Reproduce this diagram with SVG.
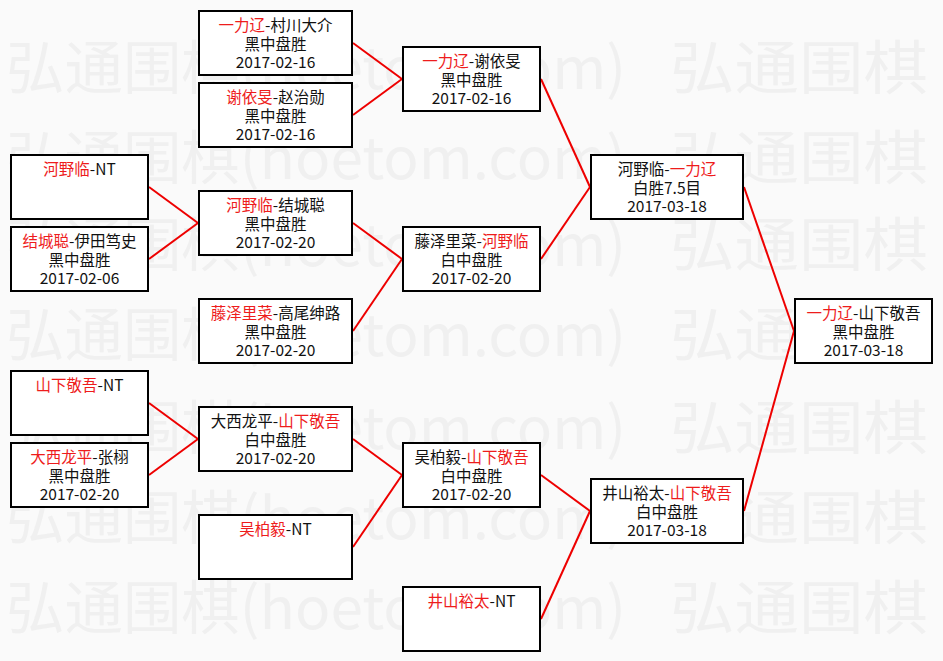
<svg xmlns="http://www.w3.org/2000/svg" width="943" height="661" viewBox="0 0 943 661">
<style>
.bg{fill:#fafafa}
.wm{font-family:"Noto Sans CJK SC","Noto Sans",sans-serif;font-size:58px;fill:#f0f0f0}
.box{fill:#ffffff;stroke:#000000;stroke-width:2}
.t{font-family:"Noto Sans CJK SC","Noto Sans",sans-serif;font-size:15.5px;fill:#111111;text-anchor:middle}
.r{fill:#ee1c1c}
.conn line{stroke:#ee0000;stroke-width:2}
</style>
<rect class="bg" x="0" y="0" width="943" height="661"/>
<g id="watermark">
<text class="wm" x="6" y="89" textLength="620" lengthAdjust="spacingAndGlyphs">弘通围棋(hoetom.com)</text>
<text class="wm" x="670" y="89" textLength="258" lengthAdjust="spacingAndGlyphs">弘通围棋</text>
<text class="wm" x="6" y="179" textLength="620" lengthAdjust="spacingAndGlyphs">弘通围棋(hoetom.com)</text>
<text class="wm" x="670" y="179" textLength="258" lengthAdjust="spacingAndGlyphs">弘通围棋</text>
<text class="wm" x="6" y="266" textLength="620" lengthAdjust="spacingAndGlyphs">弘通围棋(hoetom.com)</text>
<text class="wm" x="670" y="266" textLength="258" lengthAdjust="spacingAndGlyphs">弘通围棋</text>
<text class="wm" x="6" y="356" textLength="620" lengthAdjust="spacingAndGlyphs">弘通围棋(hoetom.com)</text>
<text class="wm" x="670" y="356" textLength="258" lengthAdjust="spacingAndGlyphs">弘通围棋</text>
<text class="wm" x="6" y="449" textLength="620" lengthAdjust="spacingAndGlyphs">弘通围棋(hoetom.com)</text>
<text class="wm" x="670" y="449" textLength="258" lengthAdjust="spacingAndGlyphs">弘通围棋</text>
<text class="wm" x="6" y="539" textLength="620" lengthAdjust="spacingAndGlyphs">弘通围棋(hoetom.com)</text>
<text class="wm" x="670" y="539" textLength="258" lengthAdjust="spacingAndGlyphs">弘通围棋</text>
<text class="wm" x="6" y="629" textLength="620" lengthAdjust="spacingAndGlyphs">弘通围棋(hoetom.com)</text>
<text class="wm" x="670" y="629" textLength="258" lengthAdjust="spacingAndGlyphs">弘通围棋</text>
</g>
<g id="connectors" class="conn">
<line x1="353" y1="43" x2="402" y2="79"/>
<line x1="353" y1="115" x2="402" y2="79"/>
<line x1="149" y1="187" x2="198" y2="223"/>
<line x1="149" y1="259" x2="198" y2="223"/>
<line x1="353" y1="223" x2="402" y2="259"/>
<line x1="353" y1="331" x2="402" y2="259"/>
<line x1="541" y1="79" x2="590" y2="187"/>
<line x1="541" y1="259" x2="590" y2="187"/>
<line x1="149" y1="403" x2="198" y2="439"/>
<line x1="149" y1="475" x2="198" y2="439"/>
<line x1="353" y1="439" x2="402" y2="475"/>
<line x1="353" y1="547" x2="402" y2="475"/>
<line x1="541" y1="475" x2="590" y2="511"/>
<line x1="541" y1="619" x2="590" y2="511"/>
<line x1="744" y1="187" x2="794" y2="331"/>
<line x1="744" y1="511" x2="794" y2="331"/>
</g>
<g id="n-c1-1">
<rect class="box" x="11" y="155" width="137" height="64"/>
<text class="t" x="79.5" y="174.5"><tspan class="r">河野临</tspan>-NT</text>
</g>
<g id="n-c1-2">
<rect class="box" x="11" y="227" width="137" height="64"/>
<text class="t" x="79.5" y="246.5"><tspan class="r">结城聪</tspan>-伊田笃史</text>
<text class="t" x="79.5" y="265.5">黑中盘胜</text>
<text class="t" x="79.5" y="284">2017-02-06</text>
</g>
<g id="n-c1-3">
<rect class="box" x="11" y="371" width="137" height="64"/>
<text class="t" x="79.5" y="390.5"><tspan class="r">山下敬吾</tspan>-NT</text>
</g>
<g id="n-c1-4">
<rect class="box" x="11" y="443" width="137" height="64"/>
<text class="t" x="79.5" y="462.5"><tspan class="r">大西龙平</tspan>-张栩</text>
<text class="t" x="79.5" y="481.5">黑中盘胜</text>
<text class="t" x="79.5" y="500">2017-02-20</text>
</g>
<g id="n-c2-1">
<rect class="box" x="199" y="11" width="153" height="64"/>
<text class="t" x="275.5" y="30.5"><tspan class="r">一力辽</tspan>-村川大介</text>
<text class="t" x="275.5" y="49.5">黑中盘胜</text>
<text class="t" x="275.5" y="68">2017-02-16</text>
</g>
<g id="n-c2-2">
<rect class="box" x="199" y="83" width="153" height="64"/>
<text class="t" x="275.5" y="102.5"><tspan class="r">谢依旻</tspan>-赵治勋</text>
<text class="t" x="275.5" y="121.5">黑中盘胜</text>
<text class="t" x="275.5" y="140">2017-02-16</text>
</g>
<g id="n-c2-3">
<rect class="box" x="199" y="191" width="153" height="64"/>
<text class="t" x="275.5" y="210.5"><tspan class="r">河野临</tspan>-结城聪</text>
<text class="t" x="275.5" y="229.5">黑中盘胜</text>
<text class="t" x="275.5" y="248">2017-02-20</text>
</g>
<g id="n-c2-4">
<rect class="box" x="199" y="299" width="153" height="64"/>
<text class="t" x="275.5" y="318.5"><tspan class="r">藤泽里菜</tspan>-高尾绅路</text>
<text class="t" x="275.5" y="337.5">黑中盘胜</text>
<text class="t" x="275.5" y="356">2017-02-20</text>
</g>
<g id="n-c2-5">
<rect class="box" x="199" y="407" width="153" height="64"/>
<text class="t" x="275.5" y="426.5">大西龙平-<tspan class="r">山下敬吾</tspan></text>
<text class="t" x="275.5" y="445.5">白中盘胜</text>
<text class="t" x="275.5" y="464">2017-02-20</text>
</g>
<g id="n-c2-6">
<rect class="box" x="199" y="515" width="153" height="64"/>
<text class="t" x="275.5" y="534.5"><tspan class="r">吴柏毅</tspan>-NT</text>
</g>
<g id="n-c3-1">
<rect class="box" x="403" y="47" width="137" height="64"/>
<text class="t" x="471.5" y="66.5"><tspan class="r">一力辽</tspan>-谢依旻</text>
<text class="t" x="471.5" y="85.5">黑中盘胜</text>
<text class="t" x="471.5" y="104">2017-02-16</text>
</g>
<g id="n-c3-2">
<rect class="box" x="403" y="227" width="137" height="64"/>
<text class="t" x="471.5" y="246.5">藤泽里菜-<tspan class="r">河野临</tspan></text>
<text class="t" x="471.5" y="265.5">白中盘胜</text>
<text class="t" x="471.5" y="284">2017-02-20</text>
</g>
<g id="n-c3-3">
<rect class="box" x="403" y="443" width="137" height="64"/>
<text class="t" x="471.5" y="462.5">吴柏毅-<tspan class="r">山下敬吾</tspan></text>
<text class="t" x="471.5" y="481.5">白中盘胜</text>
<text class="t" x="471.5" y="500">2017-02-20</text>
</g>
<g id="n-c3-4">
<rect class="box" x="403" y="587" width="137" height="64"/>
<text class="t" x="471.5" y="606.5"><tspan class="r">井山裕太</tspan>-NT</text>
</g>
<g id="n-c4-1">
<rect class="box" x="591" y="155" width="152" height="64"/>
<text class="t" x="667" y="174.5">河野临-<tspan class="r">一力辽</tspan></text>
<text class="t" x="667" y="193.5">白胜7.5目</text>
<text class="t" x="667" y="212">2017-03-18</text>
</g>
<g id="n-c4-2">
<rect class="box" x="591" y="479" width="152" height="64"/>
<text class="t" x="667" y="498.5">井山裕太-<tspan class="r">山下敬吾</tspan></text>
<text class="t" x="667" y="517.5">白中盘胜</text>
<text class="t" x="667" y="536">2017-03-18</text>
</g>
<g id="n-final">
<rect class="box" x="795" y="299" width="137" height="64"/>
<text class="t" x="863.5" y="318.5"><tspan class="r">一力辽</tspan>-山下敬吾</text>
<text class="t" x="863.5" y="337.5">黑中盘胜</text>
<text class="t" x="863.5" y="356">2017-03-18</text>
</g>
</svg>
